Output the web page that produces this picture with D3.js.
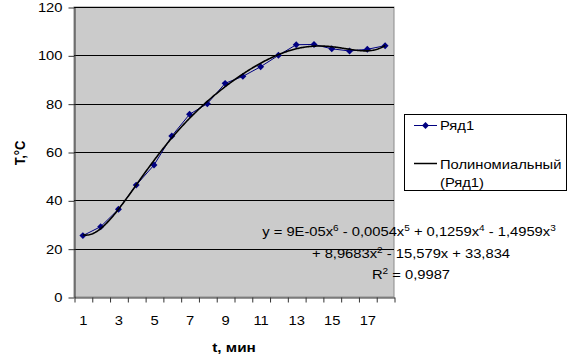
<!DOCTYPE html>
<html><head><meta charset="utf-8">
<script src="https://cdn.jsdelivr.net/npm/d3@7"></script>
<style>
html,body{margin:0;padding:0;background:#fff;}
text{font-family:"Liberation Sans",Arial,sans-serif;}
</style></head>
<body>
<svg id="c" width="568" height="360"></svg>
<script>
// ---- data ----
const categories = [1,2,3,4,5,6,7,8,9,10,11,12,13,14,15,16,17,18];
const seriesValues = [25.4,29.1,36.3,46.3,54.6,66.6,75.6,80.0,88.4,91.3,95.3,100.0,104.4,104.5,102.7,101.8,102.5,104.0];
const xTickLabels = [1,3,5,7,9,11,13,15,17];
const yTicks = [0,20,40,60,80,100,120];
const seriesName = "Ряд1";
const trendName = ["Полиномиальный", "(Ряд1)"];
const xTitle = "t, мин";
const yTitle = "T,°C";
// equation as shown: [text, superscript] pairs
const eqLine1 = [["y = 9E-05x","6"],[" - 0,0054x","5"],[" + 0,1259x","4"],[" - 1,4959x","3"]];
const eqLine2 = [["+ 8,9683x","2"],[" - 15,579x + 33,834",""]];
const eqLine3 = [["R","2"],[" = 0,9987",""]];

const SX = 1.18; // horizontal stretch of the original image text
const FS = 12.5;

const svg = d3.select("#c");
const L = 74, R = 394, T = 7, B = 297;

const x = d3.scaleLinear().domain([0.5, 18.5]).range([L, R]);
const y = d3.scaleLinear().domain([0, 120]).range([B, T]);

// plot area
svg.append("rect").attr("x", L).attr("y", T).attr("width", R - L).attr("height", B - T)
  .attr("fill", "#cbcbcb").attr("stroke", "#8a8a8a").attr("stroke-width", 1);

// gridlines
svg.append("g").selectAll("line").data(yTicks.filter(d => d > 0)).join("line")
  .attr("x1", L).attr("x2", R).attr("y1", d => Math.round(y(d)) + 0.5).attr("y2", d => Math.round(y(d)) + 0.5)
  .attr("stroke", "#000").attr("stroke-width", 1);

// y axis
const yAx = svg.append("g").attr("transform", `translate(${L + 0.5},0.5)`)
  .call(d3.axisLeft(y).tickValues(yTicks).tickSize(6).tickPadding(6).tickSizeOuter(0));
yAx.select(".domain").attr("stroke", "#333");
yAx.selectAll(".tick line").attr("stroke", "#333");
yAx.selectAll("text").attr("font-size", FS).attr("font-family", "Liberation Sans, Arial").attr("fill", "#000")
  .each(function () { const t = d3.select(this); t.attr("x", (+t.attr("x")) / SX).attr("transform", `scale(${SX},1)`); });

// x axis ticks at category boundaries
const bounds = d3.range(0.5, 19, 1);
const xAx = svg.append("g").attr("transform", `translate(0.5,${B + 0.5})`)
  .call(d3.axisBottom(x).tickValues(bounds).tickSize(5).tickFormat("").tickSizeOuter(0));
xAx.select(".domain").attr("stroke", "#333");
xAx.selectAll(".tick line").attr("stroke", "#333");
xAx.selectAll(".tick text").remove();
const xLab = svg.append("g").attr("transform", `translate(0,${B})`)
  .call(d3.axisBottom(x).tickValues(xTickLabels).tickSize(0).tickPadding(19));
xLab.select(".domain").remove();
xLab.selectAll("text").attr("font-size", FS).attr("font-family", "Liberation Sans, Arial").attr("fill", "#000")
  .attr("transform", `scale(${SX},1)`);

// trendline: least-squares polynomial of degree 6 fitted to the series
function polyFit(xs, ys, deg) {
  const c = 9.5, s = 8.5, n = deg + 1;
  const A = Array.from({length: n}, () => new Array(n + 1).fill(0));
  xs.forEach((xv, k) => {
    const t = (xv - c) / s;
    const p = []; for (let i = 0; i < 2 * n; i++) p.push(Math.pow(t, i));
    for (let i = 0; i < n; i++) { for (let j = 0; j < n; j++) A[i][j] += p[i + j]; A[i][n] += ys[k] * p[i]; }
  });
  for (let i = 0; i < n; i++) {
    let m = i; for (let r = i + 1; r < n; r++) if (Math.abs(A[r][i]) > Math.abs(A[m][i])) m = r;
    [A[i], A[m]] = [A[m], A[i]];
    for (let r = 0; r < n; r++) if (r !== i) { const f = A[r][i] / A[i][i]; for (let j = i; j <= n; j++) A[r][j] -= f * A[i][j]; }
  }
  const coef = A.map((row, i) => row[n] / row[i]);
  return xv => { const t = (xv - c) / s; let v = 0; for (let i = n - 1; i >= 0; i--) v = v * t + coef[i]; return v; };
}
const fit = polyFit(categories, seriesValues, 6);
const trendPts = d3.range(1, 18.001, 0.05).map(v => [v, fit(v)]);

// series line
svg.append("path").datum(categories.map((c, i) => [c, seriesValues[i]]))
  .attr("fill", "none").attr("stroke", "#000080").attr("stroke-width", 1)
  .attr("d", d3.line().x(d => x(d[0])).y(d => y(d[1])));

// diamond markers
const diamond = { draw(ctx, size) { const r = Math.sqrt(size / 2); ctx.moveTo(0, -r); ctx.lineTo(r, 0); ctx.lineTo(0, r); ctx.lineTo(-r, 0); ctx.closePath(); } };
svg.append("g").selectAll("path").data(categories).join("path")
  .attr("transform", (c, i) => `translate(${x(c)},${y(seriesValues[i])})`)
  .attr("d", d3.symbol().type(diamond).size(24)).attr("fill", "#000080");

// trend line
svg.append("path").datum(trendPts)
  .attr("fill", "none").attr("stroke", "#000").attr("stroke-width", 1.6)
  .attr("d", d3.line().x(d => x(d[0])).y(d => y(d[1])));

// helper for stretched text
function txt(px, py, str, anchor, opts = {}) {
  const t = svg.append("text").attr("transform", `translate(${px},${py}) scale(${SX},1)`)
    .attr("text-anchor", anchor || "start").attr("font-size", opts.fs || FS).attr("fill", "#000");
  if (opts.bold) t.attr("font-weight", "bold");
  t.text(str);
  return t;
}
function eqText(px, py, parts) {
  const t = svg.append("text").attr("transform", `translate(${px},${py}) scale(${SX},1)`)
    .attr("text-anchor", "middle").attr("font-size", FS).attr("fill", "#000");
  let shift = 0;
  parts.forEach(([main, sup]) => {
    t.append("tspan").attr("dy", shift).text(main);
    shift = 0;
    if (sup) { t.append("tspan").attr("dy", -5).attr("font-size", 8.5).text(sup); shift = 5; }
  });
}

// axis titles
txt(234, 352, xTitle, "middle", { bold: true, fs: 13 });
svg.append("text").attr("transform", `translate(25,153) scale(${SX},1) rotate(-90)`)
  .attr("text-anchor", "middle").attr("font-size", 13).attr("font-weight", "bold").text(yTitle);

// legend
svg.append("rect").attr("x", 404.5).attr("y", 114.5).attr("width", 162).attr("height", 76)
  .attr("fill", "#fff").attr("stroke", "#000").attr("stroke-width", 1);
svg.append("line").attr("x1", 414).attr("x2", 437).attr("y1", 125.5).attr("y2", 125.5).attr("stroke", "#000080").attr("stroke-width", 1);
svg.append("path").attr("transform", "translate(425.5,125.5)").attr("d", d3.symbol().type(diamond).size(24)).attr("fill", "#000080");
txt(440, 129.5, seriesName, "start");
svg.append("line").attr("x1", 414).attr("x2", 437).attr("y1", 163.5).attr("y2", 163.5).attr("stroke", "#000").attr("stroke-width", 1.5);
txt(440, 168.5, trendName[0], "start");
txt(440, 186.5, trendName[1], "start");

// equation
eqText(409, 236, eqLine1);
eqText(411, 258, eqLine2);
eqText(411, 279, eqLine3);
</script>
</body></html>
